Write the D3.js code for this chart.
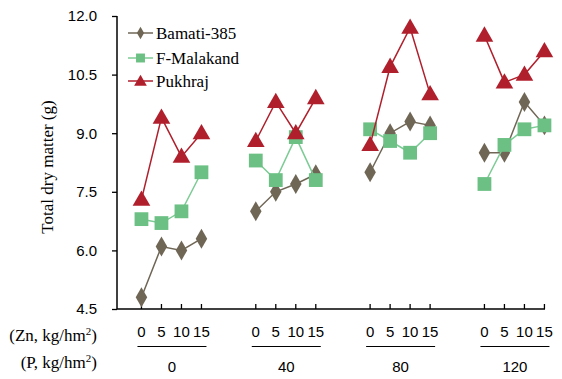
<!DOCTYPE html>
<html><head><meta charset="utf-8">
<script src="https://cdn.jsdelivr.net/npm/d3@7"></script>
<style>body{margin:0;background:#fff}svg{display:block}</style>
</head><body>
<svg id="c" width="562" height="379"></svg>
<script>
const pLevels = ["0", "40", "80", "120"];
const znLevels = ["0", "5", "10", "15"];
const yTicks = [4.5, 6.0, 7.5, 9.0, 10.5, 12.0];
const seriesNames = ["Bamati-385", "F-Malakand", "Pukhraj"];
const bamati = [4.8, 6.1, 6.0, 6.3, 7.0, 7.5, 7.7, 7.95, 8.0, 9.0, 9.3, 9.2, 8.5, 8.5, 9.8, 9.2];
const fMalakand = [6.8, 6.7, 7.0, 8.0, 8.3, 7.8, 8.9, 7.8, 9.1, 8.8, 8.5, 9.0, 7.7, 8.7, 9.1, 9.2];
const pukhraj = [7.3, 9.4, 8.4, 9.0, 8.8, 9.8, 9.0, 9.9, 8.7, 10.7, 11.7, 10.0, 11.5, 10.3, 10.5, 11.1];

const SANS = "'Liberation Sans'";
const SERIF = "'Liberation Serif'";
const colors = ["#6f6656", "#6cc084", "#b01f2c"];
const lineColors = ["#6f6656", "#7ccb94", "#b01f2c"];
const shapes = [d3.symbolDiamond, d3.symbolSquare, d3.symbolTriangle];
const values = [bamati, fMalakand, pukhraj];

const svg = d3.select("#c");
const y = d3.scaleLinear().domain([4.5, 12]).range([309, 16]);
const xg = d3.scaleBand().domain(pLevels).range([114.3, 571.6]);
const xi = d3.scalePoint().domain(znLevels).range([-30, 30]);
const xp = i => xg(pLevels[Math.floor(i / 4)]) + xg.bandwidth() / 2 + xi(znLevels[i % 4]);

// Y axis
const yAxis = d3.axisLeft(y).tickValues(yTicks).tickFormat(d3.format(".1f")).tickSize(5).tickPadding(15);
const ga = svg.append("g").attr("transform", "translate(117,0)").call(yAxis);
ga.attr("font-family", null).attr("font-size", null);
ga.select(".domain").attr("stroke", "#000").attr("stroke-width", 1.5).attr("d", "M0,16V309");
ga.selectAll(".tick line").attr("stroke", "#000").attr("stroke-width", 1.3);
ga.selectAll(".tick text").style("font-family", SANS).style("font-size", "15px").attr("fill", "#000");

// X axis line with upward ticks
svg.append("line").attr("x1", 117).attr("x2", 545).attr("y1", 309).attr("y2", 309).attr("stroke", "#000").attr("stroke-width", 1.5);
const idx = d3.range(16);
svg.selectAll(".xt").data(idx).join("line")
  .attr("x1", i => xp(i)).attr("x2", i => xp(i)).attr("y1", 309).attr("y2", 304)
  .attr("stroke", "#000").attr("stroke-width", 1.3);

// Zn labels
svg.selectAll(".zn").data(idx).join("text")
  .attr("x", i => xp(i)).attr("y", 337).attr("text-anchor", "middle")
  .style("font-family", SANS).style("font-size", "15px")
  .text(i => znLevels[i % 4]);

// group lines and P labels
pLevels.forEach((p, g) => {
  const x0 = xp(g * 4) - 4, x1 = xp(g * 4 + 3) + 5;
  svg.append("line").attr("x1", x0).attr("x2", x1).attr("y1", 346.5).attr("y2", 346.5).attr("stroke", "#000").attr("stroke-width", 1);
  svg.append("text").attr("x", (x0 + x1) / 2).attr("y", 372).attr("text-anchor", "middle")
    .style("font-family", SANS).style("font-size", "15px").text(p);
});

// Left row labels
const t1 = svg.append("text").attr("x", 97).attr("y", 341).attr("text-anchor", "end").style("font-family", SERIF).style("font-size", "17px");
t1.append("tspan").text("(Zn, kg/hm");
t1.append("tspan").style("font-size", "11px").attr("dy", -6).text("2");
t1.append("tspan").attr("dy", 6).text(")");
const t2 = svg.append("text").attr("x", 97).attr("y", 368).attr("text-anchor", "end").style("font-family", SERIF).style("font-size", "17px");
t2.append("tspan").text("(P, kg/hm");
t2.append("tspan").style("font-size", "11px").attr("dy", -6).text("2");
t2.append("tspan").attr("dy", 6).text(")");

// Y title
svg.append("text").attr("transform", "translate(53,167) rotate(-90)").attr("text-anchor", "middle")
  .style("font-family", SERIF).style("font-size", "17px").text("Total dry matter (g)");

// Series
values.forEach((vals, s) => {
  for (let g = 0; g < 4; g++) {
    const seg = d3.range(g * 4, g * 4 + 4);
    svg.append("path").datum(seg)
      .attr("d", d3.line().x(i => xp(i)).y(i => y(vals[i])))
      .attr("fill", "none").attr("stroke", lineColors[s]).attr("stroke-width", 1.5);
  }
  const sizes = [115, 190, 135];
  svg.selectAll(".m" + s).data(idx).join("path")
    .attr("transform", i => `translate(${xp(i)},${y(vals[i]) + (s === 2 ? 1 : 0)})`)
    .attr("d", d3.symbol().type(shapes[s]).size(sizes[s]))
    .attr("fill", colors[s]);
});

// Legend
const ly = [33, 58, 81];
const lsizes = [45, 80, 70];
seriesNames.forEach((n, s) => {
  svg.append("line").attr("x1", 128).attr("x2", 153).attr("y1", ly[s]).attr("y2", ly[s]).attr("stroke", lineColors[s]).attr("stroke-width", 1.5);
  svg.append("path").attr("transform", `translate(140.5,${ly[s] + (s === 2 ? 1 : 0)})`)
    .attr("d", d3.symbol().type(shapes[s]).size(lsizes[s])).attr("fill", colors[s]);
  svg.append("text").attr("x", 156).attr("y", ly[s] + 5.5).style("font-family", SERIF).style("font-size", "17px").text(n);
});
</script>
</body></html>
